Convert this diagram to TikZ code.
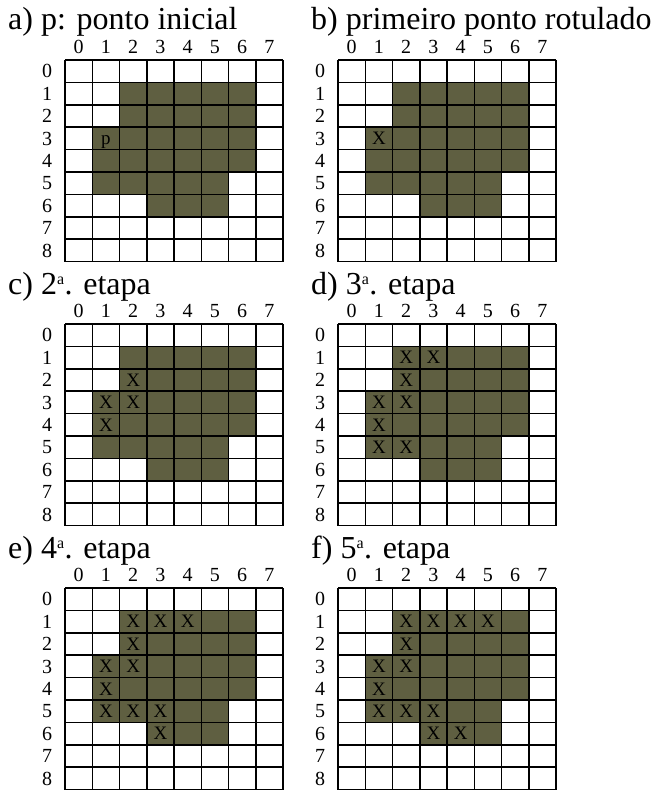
\documentclass[tikz,border=0pt]{standalone}
\usepackage{fontspec}
\setmainfont{Liberation Serif}
\usepackage{xcolor}
\usepackage{tikz}
\usetikzlibrary{positioning}
\definecolor{rgOlive}{HTML}{5F5F41}
\newcommand{\ordA}{\textsuperscript{\fontsize{16}{16}\selectfont a}}

\begin{document}
\begin{tikzpicture}[
  x=1pt, y=-1pt,
  titulo/.style={anchor=base west, inner sep=0pt, font=\fontsize{32}{32}\selectfont},
  num/.style={inner sep=0pt, text height=13.5pt, text depth=0pt, font=\fontsize{20}{20}\selectfont},
  marca/.style={inner sep=0pt, text height=12.5pt, text depth=0pt, font=\fontsize{19}{19}\selectfont},
  regiao/.style={fill=rgOlive},
  grade/.style={draw=black, line width=1.5pt},
]
\useasboundingbox (0,0) rectangle (661,791);

% painel / origem da grade / x do titulo / titulo / simbolo / celulas marcadas
\foreach \p/\ox/\oy/\tx/\txt/\simb/\marks in {
  a/65/60/8/{a) p: ponto inicial}/p/{1/3},
  b/338/60/311/{b) primeiro ponto rotulado}/X/{1/3},
  c/65/324/8/{c) 2\ordA. etapa}/X/{2/2,1/3,2/3,1/4},
  d/338/324/311/{d) 3\ordA. etapa}/X/{2/1,3/1,2/2,1/3,2/3,1/4,1/5,2/5},
  e/65/588/8/{e) 4\ordA. etapa}/X/{2/1,3/1,4/1,2/2,1/3,2/3,1/4,1/5,2/5,3/5,3/6},
  f/338/588/311/{f) 5\ordA. etapa}/X/{2/1,3/1,4/1,5/1,2/2,1/3,2/3,1/4,1/5,2/5,3/5,3/6,4/6}} {
  \node[titulo] (\p-tit) at (\tx,\oy-30) {\txt};
  \begin{scope}[shift={(\ox,\oy)}, x=27.25pt, y=-22.4pt]
    \fill[regiao] (2,1) -- (7,1) -- (7,5) -- (6,5) -- (6,7) -- (3,7) -- (3,6)
      -- (1,6) -- (1,3) -- (2,3) -- cycle;
    \foreach \c in {0,...,8}
      \draw[grade] (\c,0) -- (\c,9);
    \foreach \r in {0,...,9}
      \draw[grade] (0,\r) -- (8,\r);
    \foreach \c in {0,...,7}
      \node[num] (\p-col\c) at (\c+0.5,-0.6) {\c};
    \foreach \r in {0,...,8}
      \node[num] (\p-lin\r) at (-0.66,\r+0.5) {\r};
    \foreach \c/\r [count=\k] in \marks
      \node[marca] (\p-m\k) at (\c+0.5,\r+0.5) {\simb};
  \end{scope}
}
\end{tikzpicture}
\end{document}
